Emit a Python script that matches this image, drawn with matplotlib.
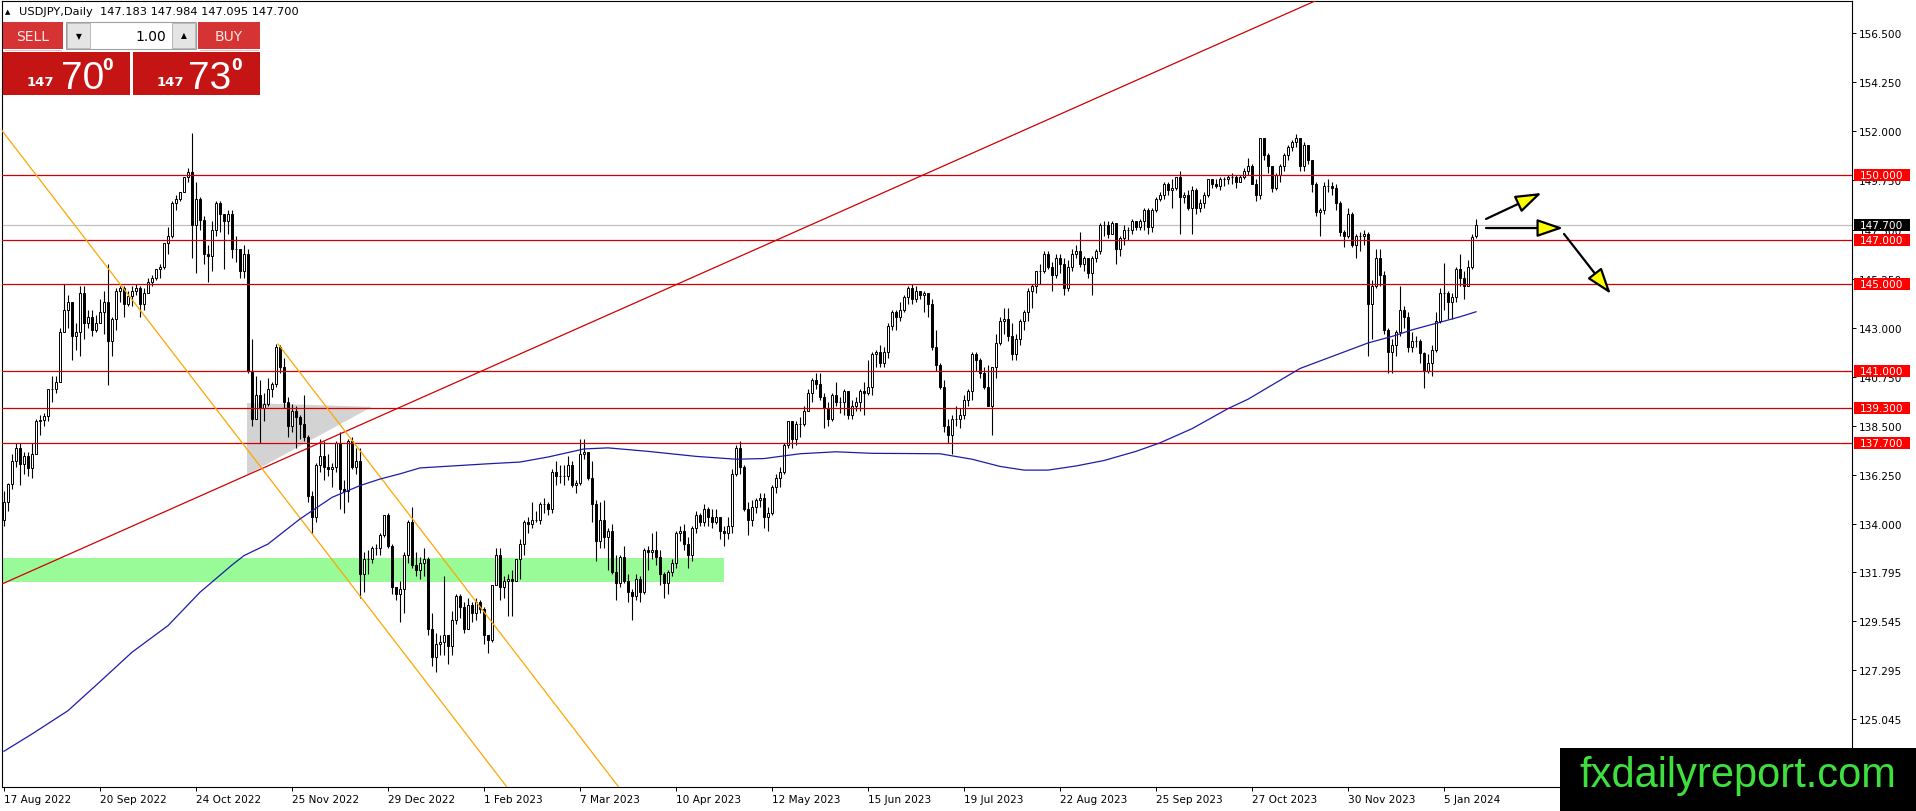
import numpy as np
import matplotlib
matplotlib.use('Agg')
import matplotlib.pyplot as plt
from matplotlib.patches import Rectangle, Polygon

plt.rcParams['font.family'] = ['DejaVu Sans']

# USDJPY daily, 17 Aug 2022 .. 17 Jan 2024 (open = previous close)
first_open = 134.20
last_open = 147.183

closes = [
    135.00, 135.85, 136.90, 137.50, 136.75, 137.10, 136.55, 137.20, 138.70, 138.75, 138.95,  # aug 22
    140.20, 140.20, 140.50, 142.80, 143.80, 144.20, 142.60, 142.80, 144.60, 143.20, 143.50,
    142.90, 143.20, 143.70, 144.20, 142.40, 143.40, 144.70, 144.80, 144.10, 144.45, 144.70,  # sep 22
    144.80, 144.10, 144.60, 145.10, 145.30, 145.70, 145.80, 146.90, 147.20, 148.70, 148.90,
    149.20, 149.90, 150.15, 147.70, 148.90, 147.95, 146.40, 146.30, 147.50, 148.70,  # oct 22
    148.20, 147.90, 148.20, 146.60, 146.60, 145.60, 146.40, 141.00, 138.80, 139.90, 139.30,
    139.50, 140.20, 140.40, 142.10, 141.20, 139.60, 138.50, 139.20, 138.90, 138.60, 138.00,  # nov 22
    135.30, 134.30, 136.70, 137.10, 136.60, 136.50, 136.60, 137.70, 135.60, 135.50, 137.80,
    136.60, 136.90, 131.70, 132.40, 132.40, 132.90, 132.90, 133.50, 134.40, 133.00, 131.10,  # dec 22
    130.80, 131.00, 132.60, 134.10, 132.10, 131.90, 132.20, 132.40, 129.20, 127.90, 128.50,
    128.60, 128.90, 128.40, 129.60, 130.70, 130.20, 129.20, 130.30, 129.90, 130.40, 130.10,  # jan 23
    128.90, 128.70, 131.20, 132.60, 131.10, 131.40, 131.50, 131.40, 132.40, 133.10,
    134.10, 134.00, 134.20, 134.20, 134.90, 134.90, 134.70, 136.40, 136.20, 136.20,  # feb 23
    136.20, 136.70, 135.80, 135.90, 137.20, 137.30, 136.10, 134.90, 133.20, 134.20, 133.40, 133.70,
    131.80, 131.30, 132.50, 131.40, 130.90, 130.70, 131.50, 130.90, 132.80, 132.70, 132.80,  # mar 23
    132.50, 131.70, 131.30, 131.80, 132.20, 133.60, 133.70, 133.10, 132.60, 133.80,
    134.40, 134.10, 134.70, 134.30, 134.10, 134.30, 133.70, 133.60, 133.90, 136.30,  # apr 23
    137.50, 136.60, 134.70, 134.20, 134.80, 135.10, 135.20, 134.30, 134.50, 135.70, 136.10, 136.40,
    137.60, 138.70, 137.90, 138.60, 138.60, 139.20, 140.00, 140.60, 140.40, 139.80, 139.30,  # may 23
    138.80, 139.90, 139.60, 139.60, 140.10, 139.00, 139.40, 139.60, 140.10, 140.00, 140.30,
    141.80, 141.90, 141.40, 141.90, 143.10, 143.70, 143.50, 143.80, 144.40, 144.80, 144.30,  # jun 23
    144.70, 144.50, 144.60, 144.10, 142.10, 141.30, 140.30, 138.50, 138.10, 138.80, 138.80,
    139.00, 139.70, 140.10, 141.80, 141.50, 140.90, 140.30, 139.40, 141.20, 142.30,  # jul 23
    143.30, 143.40, 142.60, 141.80, 142.50, 143.30, 143.70, 144.70, 144.90, 145.60, 145.60, 146.40,
    145.80, 145.40, 146.20, 145.90, 144.80, 145.80, 146.40, 146.50, 145.90, 146.20, 145.50,  # aug 23
    146.20, 146.50, 147.70, 147.70, 147.30, 147.80, 146.60, 147.10, 147.50, 147.50, 147.90,
    147.60, 147.90, 148.40, 147.60, 148.40, 148.90, 149.10, 149.60, 149.30, 149.40,  # sep 23
    149.90, 149.00, 149.10, 148.50, 149.30, 148.50, 148.70, 149.10, 149.80, 149.60, 149.50,
    149.80, 149.80, 149.90, 149.90, 149.70, 149.90, 150.20, 150.40, 149.60, 149.10, 151.70,  # oct 23
    150.90, 150.40, 149.40, 150.00, 150.40, 150.90, 151.30, 151.50, 151.70, 150.40, 151.40,
    150.70, 149.60, 148.30, 148.40, 149.50, 149.50, 149.40, 148.70, 147.40, 147.20, 148.20,  # nov 23
    146.80, 147.20, 147.20, 147.30, 144.10, 144.90, 146.20, 145.40, 142.90, 141.90,
    142.20, 142.80, 143.80, 143.50, 142.10, 142.40, 142.40, 141.85, 141.00, 141.40,  # dec 23
    142.00, 143.30, 144.60, 144.60, 144.20, 144.40, 145.70, 145.30, 144.90, 145.80, 147.18, 147.70,  # jan 24
]

highs = [
    135.50, 135.90, 137.20, 137.70, 137.70, 137.30, 137.30, 137.70, 138.80, 139.00, 139.10,
    140.20, 140.80, 140.80, 143.00, 145.00, 144.50, 144.20, 143.20, 144.90, 144.90, 143.80,
    143.80, 143.60, 144.30, 144.70, 145.90, 143.50, 144.80, 144.90, 144.90, 144.70, 144.90,
    145.00, 144.90, 144.80, 145.30, 145.40, 145.70, 145.90, 146.90, 147.60, 148.80, 149.10,
    149.20, 149.90, 150.30, 151.95, 149.70, 149.00, 148.10, 146.80, 147.90, 148.80,
    148.80, 148.10, 148.40, 148.40, 147.20, 146.50, 146.80, 146.60, 142.50, 140.80, 140.60,
    140.00, 140.70, 140.50, 142.25, 142.20, 141.60, 139.80, 139.50, 139.40, 139.00, 139.90,
    138.10, 135.50, 136.80, 137.90, 137.80, 137.20, 136.80, 137.80, 138.20, 136.00, 137.90,
    138.00, 137.50, 137.50, 132.70, 132.80, 133.00, 133.10, 133.60, 134.40, 134.50, 133.10,
    131.10, 131.40, 132.70, 134.20, 134.80, 132.70, 132.50, 132.90, 132.50, 129.90, 129.00,
    128.90, 131.60, 128.90, 130.00, 130.80, 130.80, 130.40, 130.60, 130.40, 130.60, 130.50,
    130.20, 128.90, 131.20, 132.90, 132.90, 131.60, 131.70, 131.90, 132.40, 133.30,
    134.20, 134.30, 135.00, 134.60, 135.00, 135.20, 135.00, 136.50, 136.90, 136.70,
    136.70, 137.10, 136.90, 136.00, 137.90, 137.90, 137.30, 136.90, 135.10, 135.00, 135.10, 133.80,
    134.00, 132.60, 132.60, 133.00, 131.70, 131.00, 131.70, 131.60, 132.90, 133.00, 133.60,
    133.70, 132.80, 131.80, 131.90, 132.40, 133.70, 133.90, 134.00, 133.40, 133.90,
    134.60, 134.50, 134.90, 134.80, 134.70, 134.70, 134.20, 133.90, 134.30, 136.50,
    137.60, 137.80, 136.70, 135.00, 135.10, 135.20, 135.40, 135.40, 134.80, 135.80, 136.30, 136.60,
    137.70, 138.70, 138.70, 138.70, 138.90, 139.40, 140.20, 140.70, 140.90, 140.90, 140.00,
    139.60, 140.00, 140.50, 139.80, 140.20, 140.10, 139.70, 139.80, 140.20, 140.50, 141.50,
    141.90, 142.00, 142.20, 142.10, 143.20, 143.80, 143.80, 144.20, 144.50, 144.90, 145.00,
    144.90, 144.70, 144.70, 144.60, 144.30, 142.90, 141.40, 140.60, 138.80, 139.00, 139.40,
    139.30, 139.90, 140.20, 141.90, 141.90, 141.60, 141.20, 141.30, 141.20, 142.70,
    143.50, 143.90, 143.90, 143.20, 142.70, 143.40, 143.80, 144.80, 145.00, 145.60, 145.90, 146.50,
    146.50, 146.00, 146.40, 146.40, 146.20, 146.10, 146.60, 146.80, 147.40, 146.30, 146.20,
    146.30, 146.60, 147.80, 147.90, 147.90, 147.90, 147.60, 147.20, 147.70, 147.60, 148.00,
    147.90, 148.00, 148.50, 148.50, 148.50, 149.00, 149.20, 149.70, 149.70, 149.80,
    149.90, 150.20, 149.20, 149.30, 149.50, 149.40, 148.90, 149.20, 149.80, 149.80, 149.80,
    149.90, 149.90, 150.00, 150.10, 150.00, 150.00, 150.30, 150.80, 150.50, 149.80, 151.70,
    151.70, 151.00, 150.40, 150.10, 150.50, 151.00, 151.40, 151.60, 151.90, 151.70, 151.50,
    151.40, 150.70, 149.70, 148.50, 149.70, 149.80, 149.70, 149.60, 148.80, 147.50, 148.50,
    148.30, 147.30, 147.40, 147.50, 147.40, 145.20, 146.60, 146.60, 145.60, 143.00,
    142.50, 142.90, 144.90, 144.00, 143.70, 142.80, 142.60, 142.50, 141.90, 141.80,
    142.20, 143.70, 144.80, 145.98, 144.70, 144.60, 145.80, 146.40, 145.60, 146.10, 147.30, 147.984,
]

lows = [
    133.90, 134.60, 135.60, 136.60, 135.80, 136.30, 136.20, 136.10, 137.60, 138.10, 138.50,
    138.70, 139.60, 140.00, 140.50, 142.90, 143.00, 141.50, 142.00, 141.70, 142.50, 143.00,
    142.60, 142.80, 143.20, 142.70, 140.35, 141.70, 142.90, 144.20, 143.50, 144.00, 144.00,
    144.50, 143.50, 143.80, 144.60, 144.90, 145.20, 145.30, 145.70, 146.40, 147.10, 148.40,
    148.80, 149.20, 149.70, 146.20, 145.50, 147.50, 145.90, 145.10, 145.60, 147.20,
    147.40, 145.70, 147.30, 146.20, 146.00, 145.30, 145.30, 140.90, 138.50, 138.80, 137.70,
    138.70, 139.40, 139.80, 140.30, 140.90, 139.30, 138.00, 138.20, 137.50, 137.90, 137.80,
    135.00, 133.60, 134.10, 136.40, 136.00, 136.20, 135.70, 136.40, 134.70, 134.50, 135.00,
    136.50, 136.30, 130.60, 130.90, 131.70, 132.20, 132.60, 132.60, 133.40, 132.90, 130.80,
    130.50, 129.50, 129.90, 132.20, 132.00, 131.60, 131.50, 131.60, 128.90, 127.50, 127.20,
    128.00, 128.00, 127.60, 128.00, 129.40, 129.70, 129.00, 129.20, 129.50, 129.60, 129.90,
    128.50, 128.10, 128.60, 131.20, 130.50, 130.60, 129.80, 129.80, 131.40, 131.50,
    132.60, 133.60, 133.80, 134.10, 134.00, 134.50, 134.40, 134.50, 135.80, 135.90,
    135.80, 136.00, 135.70, 135.40, 135.80, 137.00, 136.00, 134.10, 132.30, 132.90, 132.90, 131.90,
    131.70, 130.50, 131.10, 131.30, 130.40, 129.60, 130.50, 130.40, 130.80, 131.90, 132.40,
    132.10, 131.20, 130.60, 130.80, 131.60, 132.00, 133.20, 132.80, 132.00, 132.30,
    133.60, 133.90, 133.90, 133.90, 133.80, 134.00, 133.30, 133.00, 133.30, 133.60,
    136.20, 136.30, 134.60, 133.50, 133.90, 134.50, 134.80, 133.80, 133.70, 134.40, 135.40, 135.70,
    136.30, 137.50, 137.50, 137.60, 138.00, 138.50, 139.20, 139.60, 140.20, 139.70, 138.40,
    138.50, 138.70, 139.40, 139.10, 139.00, 138.80, 138.80, 139.20, 139.20, 139.00, 139.90,
    139.90, 141.20, 141.20, 141.20, 141.60, 142.90, 142.90, 143.30, 143.70, 144.10, 144.10,
    144.20, 144.30, 143.70, 143.50, 142.00, 141.00, 140.20, 138.20, 137.70, 137.20, 138.50,
    138.40, 138.80, 139.40, 139.70, 141.00, 140.70, 140.20, 139.40, 138.10, 140.70,
    142.20, 142.70, 142.40, 141.50, 141.50, 142.20, 142.90, 143.30, 143.90, 144.60, 145.00, 145.50,
    145.70, 144.70, 145.30, 145.50, 144.50, 144.70, 145.60, 146.20, 145.80, 145.60, 145.30,
    144.50, 146.00, 146.40, 147.20, 147.10, 147.30, 145.90, 146.30, 146.80, 147.00, 147.30,
    147.50, 147.50, 147.50, 147.30, 147.40, 148.30, 148.80, 148.90, 149.10, 148.50,
    149.30, 147.30, 148.70, 148.40, 147.30, 148.20, 148.30, 148.50, 149.00, 149.40, 149.40,
    149.30, 149.50, 149.60, 149.60, 149.40, 149.70, 149.80, 150.00, 149.60, 148.80, 148.90,
    150.70, 150.10, 149.20, 149.30, 149.70, 150.20, 150.70, 151.10, 151.30, 150.20, 150.20,
    150.50, 149.20, 148.10, 147.20, 148.20, 149.20, 149.10, 148.40, 147.20, 146.70, 147.10,
    146.70, 146.20, 146.50, 146.80, 141.70, 142.50, 144.80, 144.90, 142.70, 140.90,
    140.90, 141.70, 142.60, 143.00, 141.90, 141.90, 142.10, 141.40, 140.25, 140.90,
    140.80, 141.90, 143.20, 143.80, 143.40, 143.40, 144.20, 144.90, 144.30, 144.90, 145.70, 147.095,
]

# moving average (bar index, price)
ma_bars = [0, 7, 16, 24, 32, 41, 49, 57, 60, 66, 74, 82, 89, 94, 99, 104, 121, 129, 136, 145,
           151, 161, 173, 183, 190, 199, 208, 217, 234, 242, 249, 255, 261, 268, 275, 283, 289,
           297, 306, 311, 324, 341, 347, 352, 359, 364, 368]
ma_vals = [123.58, 124.37, 125.44, 126.77, 128.12, 129.34, 130.87, 132.12, 132.55, 133.08, 134.23,
           135.22, 135.76, 136.06, 136.30, 136.57, 136.76, 136.84, 137.07, 137.44, 137.49, 137.33,
           137.10, 136.97, 137.00, 137.22, 137.31, 137.24, 137.22, 136.97, 136.64, 136.47, 136.47,
           136.66, 136.91, 137.33, 137.72, 138.37, 139.29, 139.72, 141.13, 142.30, 142.60, 142.90,
           143.25, 143.50, 143.73]

# support / resistance levels
levels = [150.0, 147.0, 145.0, 141.0, 139.3, 137.7]
bid = 147.70

# price axis and date axis
price_ticks = [156.5, 154.25, 152.0, 149.75, 147.5, 145.25, 143.0, 140.75, 138.5, 136.25, 134.0,
               131.795, 129.545, 127.295, 125.045]
date_ticks = list(range(0, 361, 24))
date_labels = ['17 Aug 2022', '20 Sep 2022', '24 Oct 2022', '25 Nov 2022', '29 Dec 2022',
               '1 Feb 2023', '7 Mar 2023', '10 Apr 2023', '12 May 2023', '15 Jun 2023',
               '19 Jul 2023', '22 Aug 2023', '25 Sep 2023', '27 Oct 2023', '30 Nov 2023',
               '5 Jan 2024']

# drawn objects (bar index, price)
red_ray = [(0, 131.29), (300, 155.72)]
orange_a = [(-0.5, 152.04), (130, 120.92)]
orange_b = [(68.5, 142.25), (200, 110.89)]
triangle = [(60.75, 139.55), (60.75, 136.25), (92, 139.37)]
zone_bars = (-1, 180)
zone_prices = (131.33, 132.43)
arrows = [((370.5, 147.985), (384.4, 149.18)),
          ((370.5, 147.57), (389.8, 147.57)),
          ((390.0, 147.30), (401.7, 144.55))]

W, H = 1916, 812
fig = plt.figure(figsize=(W / 100, H / 100), dpi=100)
ax = fig.add_axes([2 / W, 24 / H, 1850 / W, 786 / H])
ax.set_xlim(-0.5, 462)
ax.set_ylim(121.94, 157.98)

closes = np.array(closes)
highs = np.array(highs)
lows = np.array(lows)
opens = np.concatenate([[first_open], closes[:-1]])
opens[-1] = last_open
highs = np.maximum(highs, np.maximum(opens, closes))
lows = np.minimum(lows, np.minimum(opens, closes))
x = np.arange(len(closes))
up = closes >= opens

# background objects
ax.add_patch(Rectangle((zone_bars[0], zone_prices[0]), zone_bars[1] - zone_bars[0],
                       zone_prices[1] - zone_prices[0], fc='#98fb98', ec='none', zorder=1))
ax.add_patch(Polygon(triangle, closed=True, fc='#d3d3d3', ec='none', zorder=1))
ax.axhline(bid, color='#c0c0c0', lw=0.9, zorder=2)

# candles
ax.vlines(x, lows, highs, color='black', lw=0.8, zorder=3)
ax.bar(x[up], closes[up] - opens[up], bottom=opens[up], width=0.55,
       facecolor='white', edgecolor='black', linewidth=0.7, zorder=3.5)
ax.bar(x[~up], closes[~up] - opens[~up], bottom=opens[~up], width=0.55,
       facecolor='black', edgecolor='black', linewidth=0.7, zorder=3.5)

# lines on top
for lvl in levels:
    ax.axhline(lvl, color='#d00000', lw=0.9, zorder=4)
ax.axline(red_ray[0], red_ray[1], color='#d00000', lw=0.9, zorder=4)
for ln in [orange_a, orange_b]:
    ax.plot([ln[0][0], ln[1][0]], [ln[0][1], ln[1][1]], color='#ffa500', lw=0.9, zorder=4)
ax.plot(ma_bars, ma_vals, color='#1c1ca8', lw=0.9, zorder=4)

for tail, tip in arrows:
    ax.annotate('', xy=tip, xytext=tail, zorder=6,
                arrowprops=dict(arrowstyle='-|>,head_length=1.6,head_width=0.55',
                                fc='yellow', ec='black', lw=1.6, mutation_scale=10,
                                shrinkA=0, shrinkB=0))

# axes look
ax.yaxis.tick_right()
ax.set_yticks(price_ticks)
ax.set_yticklabels(['%.3f' % p for p in price_ticks])
ax.set_xticks(date_ticks)
ax.set_xticklabels(date_labels)
ax.tick_params(axis='both', labelsize=7.6, length=3, width=0.7, direction='out', pad=2)
for lab in ax.get_xticklabels():
    lab.set_horizontalalignment('left')
for s in ax.spines.values():
    s.set_color('black')
    s.set_linewidth(0.8)

# overlay in pixel coordinates
ov = fig.add_axes([0, 0, 1, 1])
ov.set_xlim(0, W)
ov.set_ylim(H, 0)
ov.axis('off')
ov.patch.set_visible(False)
ov.set_zorder(5)


def py(p):
    return H - ax.transData.transform((0, p))[1]


for lvl in levels:
    ov.add_patch(Rectangle((1854, py(lvl) - 6), 56, 12, fc='#ff0000', ec='none'))
    ov.text(1860, py(lvl), '%.3f' % lvl, color='white', fontsize=7.6, va='center', ha='left')
ov.add_patch(Rectangle((1854, py(bid) - 6), 56, 12, fc='black', ec='none'))
ov.text(1860, py(bid), '%.3f' % bid, color='white', fontsize=7.6, va='center', ha='left')

# header
ov.text(8, 12, '▲', fontsize=5, va='center', ha='center')
ov.text(19, 12, 'USDJPY,Daily  147.183 147.984 147.095 147.700', fontsize=8.2, va='center')

# one click trading panel
ov.add_patch(Rectangle((3, 23), 60, 27, fc='#d63434', ec='none'))
ov.add_patch(Rectangle((198, 23), 62, 27, fc='#d63434', ec='none'))
ov.add_patch(Rectangle((66, 23), 130, 27, fc='white', ec='#a0a0a0', lw=0.8))
ov.add_patch(Rectangle((67, 24), 23, 25, fc='#e4e4e4', ec='#b0b0b0', lw=0.6))
ov.add_patch(Rectangle((172, 24), 23, 25, fc='#e4e4e4', ec='#b0b0b0', lw=0.6))
ov.text(33, 37, 'SELL', color='#ffe8e8', fontsize=10, ha='center', va='center')
ov.text(229, 37, 'BUY', color='#ffe8e8', fontsize=10, ha='center', va='center')
ov.text(78.5, 37, '▼', fontsize=5.5, ha='center', va='center')
ov.text(183.5, 36, '▲', fontsize=5.5, ha='center', va='center')
ov.text(166, 37, '1.00', fontsize=10, ha='right', va='center')
ov.plot([5, 61], [51, 51], color='#f0b0b0', lw=0.6)
ov.plot([200, 258], [51, 51], color='#f0b0b0', lw=0.6)
ov.add_patch(Rectangle((3, 53), 127, 43, fc='#c41414', ec='none'))
ov.add_patch(Rectangle((133, 53), 127, 43, fc='#c41414', ec='none'))
ov.text(40, 86, '147', color='white', fontsize=9.5, weight='bold', ha='center', va='baseline')
ov.text(83, 89, '70', color='white', fontsize=28, family='Liberation Sans', ha='center', va='baseline')
ov.text(108, 65, '0', color='white', fontsize=11, weight='bold', ha='center', va='center')
ov.text(170, 86, '147', color='white', fontsize=9.5, weight='bold', ha='center', va='baseline')
ov.text(210, 89, '73', color='white', fontsize=28, family='Liberation Sans', ha='center', va='baseline')
ov.text(237, 65, '0', color='white', fontsize=11, weight='bold', ha='center', va='center')

# watermark
ov.add_patch(Rectangle((1560, 749), 356, 63, fc='black', ec='none'))
ov.text(1738, 776, 'fxdailyreport.com', color='#3ee03e', fontsize=30,
        family='Liberation Sans', ha='center', va='center')

fig.savefig('out.png', dpi=100)
